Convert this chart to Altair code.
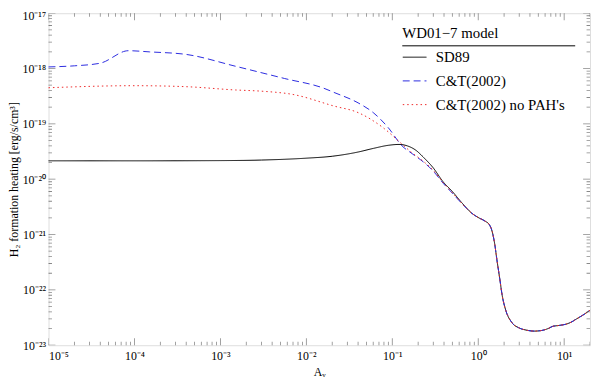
import altair as alt
import pandas as pd

# ---- data ----
series_names = ["SD89", "C&T(2002)", "C&T(2002) no PAH's"]
series_colors = ["#000000", "#2b2be0", "#ee2a2a"]
series_dashes = [[1, 0], [7, 4], [1.5, 3]]

# common tail (all three models coincide for Av > ~0.8)
tail_x = [1.02, 1.2, 1.35, 1.45, 1.55, 1.65, 1.78, 1.9, 2.1, 2.45, 3.0, 3.6, 4.5,
          5.5, 6.5, 7.4, 8.2, 9.1, 10.5, 12, 14, 17, 20]
tail_y = [2.0e-21, 1.75e-21, 1.5e-21, 1.15e-21, 7e-22, 3.5e-22, 1.6e-22, 8e-23,
          4.2e-23, 2.6e-23, 2.05e-23, 1.88e-23, 1.8e-23, 1.85e-23, 2.0e-23,
          2.2e-23, 2.25e-23, 2.3e-23, 2.4e-23, 2.6e-23, 3.0e-23, 3.6e-23, 4.3e-23]

sd_x = [1e-5, 1e-4, 1e-3, 3e-3, 1e-2, 2e-2, 0.04, 0.06, 0.09, 0.12, 0.15, 0.19,
        0.23, 0.3, 0.39, 0.5, 0.65, 0.85]
sd_y = [2.15e-20, 2.15e-20, 2.17e-20, 2.22e-20, 2.4e-20, 2.6e-20, 3.1e-20, 3.6e-20,
        4.1e-20, 4.25e-20, 4.0e-20, 3.3e-20, 2.5e-20, 1.6e-20, 9e-21, 6e-21,
        3.7e-21, 2.4e-21]

ct_x = [1e-5, 2e-5, 4e-5, 8.5e-5, 1.5e-4, 4e-4, 1.5e-3, 5.6e-3, 0.016, 0.021,
        0.04, 0.06, 0.09, 0.13, 0.17, 0.23, 0.3, 0.39, 0.5, 0.65, 0.85]
ct_y = [1.07e-18, 1.12e-18, 1.25e-18, 2.1e-18, 2.0e-18, 1.8e-18, 1.1e-18, 6.6e-19,
        4.4e-19, 3.7e-19, 2.4e-19, 1.6e-19, 8.5e-20, 4.0e-20, 2.9e-20, 2.05e-20,
        1.4e-20, 8.5e-21, 5.6e-21, 3.6e-21, 2.4e-21]

np_x = [1e-5, 1e-4, 4e-4, 1.5e-3, 3e-3, 7e-3, 0.021, 0.04, 0.08, 0.13, 0.17, 0.23,
        0.3, 0.39, 0.5, 0.65, 0.85]
np_y = [4.5e-19, 4.9e-19, 4.7e-19, 4.1e-19, 3.9e-19, 3.4e-19, 2.1e-19, 1.6e-19,
        8.3e-20, 4.3e-20, 3.0e-20, 2.1e-20, 1.45e-20, 8.7e-21, 5.7e-21, 3.6e-21,
        2.4e-21]

x_major = [1e-5, 1e-4, 1e-3, 1e-2, 1e-1, 1, 10]
y_major = [1e-23, 1e-22, 1e-21, 1e-20, 1e-19, 1e-18, 1e-17]
x_labels = ["10\u207b\u2075", "10\u207b\u2074", "10\u207b\u00b3", "10\u207b\u00b2",
            "10\u207b\u00b9", "10\u2070", "10\u00b9"]
y_labels = ["10\u207b\u00b2\u00b3", "10\u207b\u00b2\u00b2", "10\u207b\u00b2\u00b9",
            "10\u207b\u00b2\u2070", "10\u207b\u00b9\u2079", "10\u207b\u00b9\u2078",
            "10\u207b\u00b9\u2077"]
minor_mult = [2, 3, 4, 5, 6, 7, 8, 9]

# ---- tables ----
rows = []
for name, xs, ys in [(series_names[0], sd_x + tail_x, sd_y + tail_y),
                     (series_names[1], ct_x + tail_x, ct_y + tail_y),
                     (series_names[2], np_x + tail_x, np_y + tail_y)]:
    for xv, yv in zip(xs, ys):
        rows.append({"Av": xv, "H": yv, "series": name})
df = pd.DataFrame(rows)

x_dom = [1e-5, 20]
y_dom = [1e-23, 1e-17]
xt = [{"Av": v, "len": 14} for v in x_major] + \
     [{"Av": m * d, "len": 7} for d in x_major for m in minor_mult if m * d <= 20]
yt = [{"H": v, "len": 14} for v in y_major] + \
     [{"H": m * d, "len": 7} for d in y_major[:-1] for m in minor_mult]
xt_df = pd.DataFrame(xt)
yt_df = pd.DataFrame(yt)

W, H = 548, 336
FONT = "Liberation Serif"
FRAME = "#555555"

xscale = alt.Scale(type="log", domain=x_dom, nice=False)
yscale = alt.Scale(type="log", domain=y_dom, nice=False)

x_lab_expr = "[" + ",".join("'%s'" % s for s in x_labels) + "][round(log(datum.value)/LN10)+5]"
y_lab_expr = "[" + ",".join("'%s'" % s for s in y_labels) + "][round(log(datum.value)/LN10)+23]"

x_axis = alt.Axis(title="A\u1d65", values=x_major, labelExpr=x_lab_expr,
                  ticks=False, domain=False, grid=False, labelPadding=5,
                  titlePadding=6, labelFontSize=12, titleFontSize=12,
                  titleFontWeight="normal", labelFont=FONT, titleFont=FONT,
                  labelColor="black", titleColor="black")
y_axis = alt.Axis(title="H\u2082 formation heating [erg/s/cm\u00b3]",
                  values=y_major, labelExpr=y_lab_expr, ticks=False,
                  domain=False, grid=False, labelPadding=3, titlePadding=2,
                  labelOffset={"condition": {"test": "datum.value > 5e-18", "value": 2},
                               "value": 0},
                  labelFontSize=12, titleFontSize=12, titleFontWeight="normal",
                  labelFont=FONT, titleFont=FONT, labelColor="black",
                  titleColor="black")

legend = alt.Legend(
    title="WD01\u22127 model", orient="none", legendX=358, legendY=13,
    titleFont=FONT, titleFontSize=15, titleFontWeight="normal", titleColor="black",
    titlePadding=4, labelFont=FONT, labelFontSize=15, labelColor="black",
    symbolType="stroke", symbolSize=576, symbolStrokeWidth=1, labelOffset=9,
    rowPadding=3, padding=0,
)

lines = alt.Chart(df).mark_line(strokeWidth=1, interpolate="monotone").encode(
    x=alt.X("Av:Q", scale=xscale, axis=x_axis),
    y=alt.Y("H:Q", scale=yscale, axis=y_axis),
    color=alt.Color("series:N", scale=alt.Scale(domain=series_names, range=series_colors),
                    legend=legend),
    strokeDash=alt.StrokeDash("series:N",
                              scale=alt.Scale(domain=series_names, range=series_dashes),
                              legend=legend),
)

def xticks(ypos):
    return alt.Chart(xt_df).mark_tick(orient="vertical", clip=True, color=FRAME,
                                      thickness=0.8).encode(
        x=alt.X("Av:Q", scale=xscale, axis=x_axis),
        y=alt.value(ypos),
        size=alt.Size("len:Q", scale=None, legend=None),
    )

def yticks(xpos):
    return alt.Chart(yt_df).mark_tick(orient="horizontal", clip=True, color=FRAME,
                                      thickness=0.8).encode(
        y=alt.Y("H:Q", scale=yscale, axis=y_axis),
        x=alt.value(xpos),
        size=alt.Size("len:Q", scale=None, legend=None),
    )

underline = alt.Chart(pd.DataFrame({"a": [0]})).mark_rule(color="black", strokeWidth=1).encode(
    x=alt.value(358), x2=alt.value(533), y=alt.value(33)
)

chart = alt.layer(lines, xticks(0), xticks(H), yticks(0), yticks(W), underline).properties(
    width=W, height=H,
    autosize=alt.AutoSizeParams(type="none"),
    padding={"left": 41, "top": 3, "right": 2, "bottom": 40},
).configure_view(stroke=FRAME, strokeWidth=1).configure(font=FONT)

chart.save("out.html", embed_options={"renderer": "svg", "actions": False})
